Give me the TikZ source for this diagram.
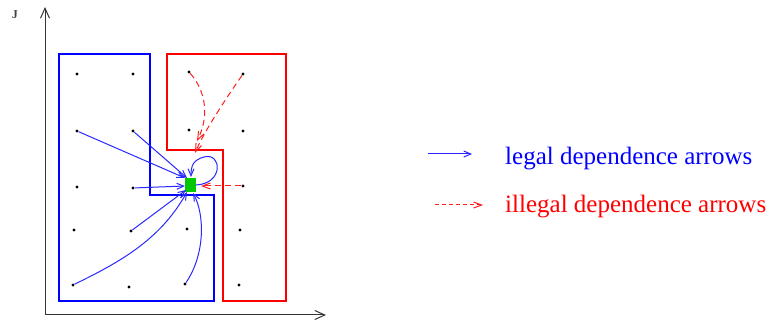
\documentclass[tikz,border=0pt]{standalone}
\usepackage{fontspec}
\setmainfont{Liberation Serif}
\usetikzlibrary{arrows.meta}
\definecolor{lblue}{RGB}{40,40,255}
\definecolor{lred}{RGB}{255,30,30}
\definecolor{lgreen}{RGB}{0,200,0}
\tikzset{
  axis/.style={draw=black!80, line width=1pt, -{Straight Barb[length=10pt,width=9pt]}},
  legalreg/.style={draw=blue, line width=1.4pt},
  illegalreg/.style={draw=red, line width=1.3pt},
  pt/.style={circle, fill=black, inner sep=0pt, minimum size=3.2pt},
  legal/.style={draw=lblue, line width=1pt, -{Straight Barb[length=7pt,width=6pt]}},
  illegal/.style={draw=lred, line width=1pt, dash pattern=on 6pt off 4pt, -{Straight Barb[length=8pt,width=6pt]}},
  illegalleg/.style={illegal, dash pattern=on 4pt off 3pt},
  legtext/.style={font=\fontsize{25}{30}\selectfont, anchor=base west, inner sep=0pt},
}
\begin{document}
\begin{tikzpicture}[x=1pt,y=-1pt]
\useasboundingbox (0,0) rectangle (771,320);
% axes
\coordinate (O) at (45,315);
\coordinate (ytop) at (45,7);
\coordinate (xend) at (326,315);
\draw[axis] (O) -- (ytop);
\draw[axis] (O) -- (xend);
\node[font=\bfseries\fontsize{12}{14}\selectfont, text=black!75, inner sep=0pt] (J) at (15,15) {J};
% regions
\draw[legalreg] (59,54) -- (150,54) -- (150,195) -- (214,195) -- (214,301) -- (59,301) -- cycle;
\draw[illegalreg] (167,54) -- (286,54) -- (286,301) -- (223,301) -- (223,150) -- (167,150) -- cycle;
% points
\node[pt] (p11) at (77,74) {};
\node[pt] (p12) at (133,74) {};
\node[pt] (p13) at (189,72) {};
\node[pt] (p14) at (243,74) {};
\node[pt] (p21) at (77,131) {};
\node[pt] (p22) at (133,131) {};
\node[pt] (p23) at (189,130) {};
\node[pt] (p24) at (243,131) {};
\node[pt] (p31) at (77,187) {};
\node[pt] (p32) at (133,188) {};
\node[pt] (p34) at (243,186) {};
\node[pt] (p41) at (74,230) {};
\node[pt] (p42) at (131,231) {};
\node[pt] (p43) at (187,229) {};
\node[pt] (p44) at (240,230) {};
\node[pt] (p51) at (73,285) {};
\node[pt] (p52) at (129,287) {};
\node[pt] (p53) at (185,284) {};
\node[pt] (p54) at (239,285) {};
% target
\node[fill=lgreen, minimum width=11pt, minimum height=14pt, inner sep=0pt] (sq) at (190,185) {};
% legal arrows
\draw[legal] (p21) -- (185,178);
\draw[legal] (p22) -- (187,178);
\draw[legal] (p32) -- (185,186);
\draw[legal] (p42) -- (186,190);
\draw[legal] (p51) .. controls (120,262) and (160,240) .. (187,192);
\draw[legal] (p53) .. controls (205,255) and (205,215) .. (193,193);
\draw[legal] (sq.east) .. controls (224,184) and (222,152) .. (204,157) .. controls (193,160) and (191,166) .. (191,177);
% illegal arrows
\draw[illegal] (p13) .. controls (205,90) and (210,115) .. (197,141);
\draw[illegal] (p14) .. controls (225,100) and (205,130) .. (195,153);
\draw[illegal] (p34) -- (201,186);
% legend
\coordinate (la1) at (428,154);
\coordinate (la2) at (472,154);
\draw[legal] (la1) -- (la2);
\node[legtext, text=blue] (lt1) at (505,165) {legal dependence arrows};
\coordinate (lb1) at (435,205);
\coordinate (lb2) at (483,205);
\draw[illegalleg] (lb1) -- (lb2);
\node[legtext, text=red] (lt2) at (505,213) {illegal dependence arrows};
\end{tikzpicture}
\end{document}
